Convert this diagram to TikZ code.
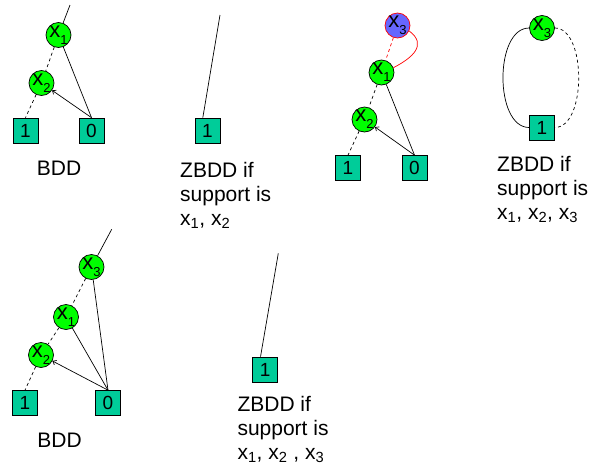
\documentclass[tikz,border=0pt]{standalone}
\usepackage{fontspec}
\setmainfont{Liberation Sans}
\usetikzlibrary{arrows.meta}
\definecolor{vgreen}{RGB}{0,255,0}
\definecolor{teal1}{RGB}{0,204,153}
\definecolor{vblue}{RGB}{102,102,255}
\newcommand{\vx}[1]{\makebox[0pt][c]{x\raisebox{-0.32em}{\fontsize{13}{13}\selectfont #1}}}
\begin{document}
\begin{tikzpicture}[x=1pt,y=-1pt,
  vnode/.style={circle,draw=black,line width=0.7pt,fill=vgreen,minimum size=25pt,inner sep=0pt,font=\fontsize{22}{22}\selectfont},
  tnode/.style={rectangle,draw=black,line width=0.7pt,fill=teal1,minimum size=25pt,inner sep=0pt,font=\fontsize{19}{19}\selectfont},
  lab/.style={font=\fontsize{21}{24}\selectfont,inner sep=0pt},
  txt/.style={font=\fontsize{21}{24}\selectfont,inner sep=0pt,align=left,anchor=north west},
  edge/.style={line width=0.7pt},
  dedge/.style={line width=0.7pt,dash pattern=on 3pt off 3pt},
  aedge/.style={line width=0.7pt,-{Straight Barb[length=3pt,width=5pt]}}
]
\useasboundingbox (0,0) rectangle (592,469);
% ---------- top-left BDD
\coordinate (s1) at (70,5);
\node[vnode] (a1) at (58.5,35) {\vx{1}};
\node[vnode] (a2) at (41.5,83) {\vx{2}};
\node[tnode] (ab1) at (25.5,130.5) {1};
\node[tnode] (ab0) at (91.5,130.5) {0};
\draw[edge] (s1) -- (a1);
\draw[dedge] (a1) -- (a2);
\draw[dedge] (a2) -- (ab1.north);
\draw[edge] (a1) -- (ab0.north);
\draw[aedge] (ab0.north) -- (a2);
\node[lab] (l1) at (59,168) {BDD};
% ---------- top-middle ZBDD
\coordinate (s2) at (220,15);
\node[tnode] (zb1) at (207.5,130.5) {1};
\draw[edge] (s2) -- (zb1.110);
\node[txt] (t2) at (180,162) {ZBDD if\\support is\\x\textsubscript{1}, x\textsubscript{2}};
% ---------- top third
\node[vnode,fill=vblue,draw=red] (c3) at (397.5,25.5) {\vx{3}};
\node[vnode] (c1) at (381.5,72.5) {\vx{1}};
\node[vnode] (c2) at (364.5,119.5) {\vx{2}};
\node[tnode] (cb1) at (348,168) {1};
\node[tnode] (cb0) at (414.5,168) {0};
\draw[dedge,red] (c3) -- (c1);
\draw[edge,red] (c3.-25) .. controls (428,45) and (412,58) .. (c1.22);
\draw[dedge] (c1) -- (c2);
\draw[dedge] (c2) -- (cb1.north);
\draw[edge] (c1) -- (cb0.north);
\draw[aedge] (cb0.north) -- (c2);
% ---------- top-right ZBDD
\node[vnode] (d3) at (542,28) {\vx{3}};
\node[tnode] (db1) at (542,127.5) {1};
\draw[edge] (d3.west) to[out=180,in=180,looseness=0.9] (db1.west);
\draw[dedge] (d3.east) to[out=0,in=0,looseness=0.82] (db1.east);
\node[txt] (t4) at (497,156) {ZBDD if\\support is\\x\textsubscript{1}, x\textsubscript{2}, x\textsubscript{3}};
% ---------- bottom-left BDD
\coordinate (s5) at (111.7,229.3);
\node[vnode] (e3) at (91.5,267) {\vx{3}};
\node[vnode] (e1) at (66,317) {\vx{1}};
\node[vnode] (e2) at (41,355) {\vx{2}};
\node[tnode] (eb1) at (25,403) {1};
\node[tnode] (eb0) at (108,403) {0};
\draw[edge] (s5) -- (e3);
\draw[dedge] (e3) -- (e1);
\draw[dedge] (e1) -- (e2);
\draw[dedge] (e2) -- (eb1.north);
\draw[edge] (e3) -- (eb0.north);
\draw[edge] (e1) -- (eb0.north);
\draw[aedge] (eb0.north) -- (e2);
\node[lab] (l5) at (59.5,440) {BDD};
% ---------- bottom-middle ZBDD
\coordinate (s6) at (278.3,253.3);
\node[tnode] (fb1) at (265.2,369.5) {1};
\draw[edge] (s6) -- (fb1.110);
\node[txt] (t6) at (237.3,396) {ZBDD if\\support is\\x\textsubscript{1}, x\textsubscript{2} , x\textsubscript{3}};
\end{tikzpicture}
\end{document}
